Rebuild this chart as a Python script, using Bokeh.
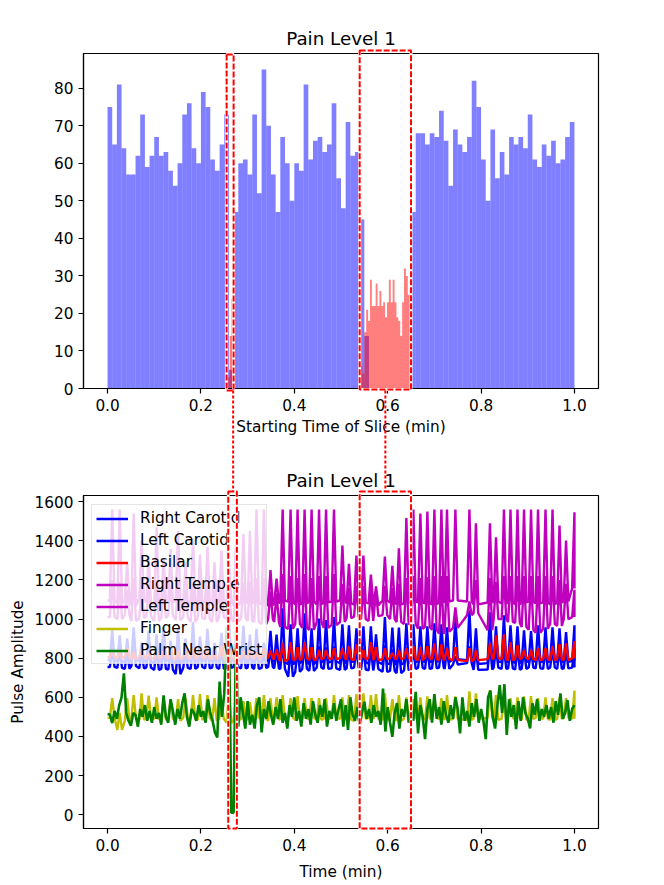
from bokeh.embed import file_html
from bokeh.layouts import column
from bokeh.plotting import figure
from bokeh.resources import INLINE
import numpy as np

# top panel: slices per starting time, 100 bins
blue_counts = [75, 65, 81, 64, 57, 57, 62, 73, 59, 62,
               67, 62, 63, 58, 54, 60, 73, 76, 64, 60,
               79, 75, 61, 58, 65, 73, 5, 47, 60, 61,
               57, 73, 52, 85, 70, 57, 47, 67, 60, 50,
               60, 58, 81, 61, 66, 67, 63, 65, 76, 56,
               48, 71, 62, 63, 45, 14, 0, 0, 0, 0,
               0, 0, 0, 0, 0, 47, 68, 68, 65, 68,
               67, 74, 66, 54, 69, 65, 63, 67, 82, 75,
               61, 50, 69, 56, 63, 57, 67, 65, 67, 64,
               73, 61, 59, 65, 62, 66, 60, 61, 67, 71]
red_early_counts = [3, 14, 24]
red_late_counts = [6, 4, 15, 21, 18, 29, 22, 22, 28, 22, 26, 22, 23, 19,
                   23, 29, 23, 29, 23, 19, 18, 14, 23, 32, 30, 25, 27]
red_early_start = 0.2575
red_late_start = 0.5418
red_bin = 0.00405

x_ticks = [0.0, 0.2, 0.4, 0.6, 0.8, 1.0]
top_y_ticks = [0, 10, 20, 30, 40, 50, 60, 70, 80]
bottom_y_ticks = [0, 200, 400, 600, 800, 1000, 1200, 1400, 1600]

# bottom panel: one value per heart beat, peak and trough
beat_time = [0.010, 0.026, 0.042, 0.056, 0.073, 0.088, 0.105, 0.120,
             0.135, 0.151, 0.167, 0.183, 0.198, 0.214, 0.229, 0.244,
             0.260, 0.275, 0.291, 0.305, 0.319, 0.335, 0.349, 0.362,
             0.375, 0.392, 0.407, 0.422, 0.437, 0.453, 0.468, 0.485,
             0.503, 0.517, 0.533, 0.548, 0.564, 0.575, 0.594, 0.610,
             0.624, 0.640, 0.655, 0.670, 0.685, 0.700, 0.715, 0.727,
             0.745, 0.775, 0.789, 0.819, 0.832, 0.849, 0.863, 0.878,
             0.892, 0.907, 0.922, 0.938, 0.953, 0.968, 0.982, 1.000]

right_carotid_peak = [943, 917, 900, 958, 880, 940, 920, 960,
                      890, 950, 900, 985, 910, 950, 880, 930,
                      1010, 900, 965, 920, 950, 880, 940, 920,
                      1055, 973, 953, 1030, 953, 1003, 995, 1010,
                      973, 968, 953, 963, 963, 922, 1010, 957,
                      957, 978, 973, 963, 963, 978, 973, 958,
                      1003, 1045, 953, 1035, 963, 1019, 968, 963,
                      943, 938, 968, 958, 958, 953, 933, 968]
right_carotid_trough = [790, 785, 780, 792, 785, 782, 778, 790,
                        785, 775, 788, 782, 790, 785, 788, 780,
                        785, 790, 782, 788, 780, 785, 790, 782,
                        778, 770, 775, 782, 770, 785, 778, 782,
                        775, 780, 785, 778, 772, 780, 770, 772,
                        768, 775, 780, 785, 780, 782, 785, 780,
                        795, 790, 770, 775, 782, 780, 782, 775,
                        780, 785, 782, 780, 785, 780, 782, 785]
left_carotid_peak = [850, 840, 835, 860, 830, 845, 840, 855,
                     835, 850, 830, 860, 840, 850, 830, 845,
                     865, 835, 850, 840, 850, 830, 845, 840,
                     870, 850, 845, 865, 845, 860, 855, 860,
                     850, 850, 845, 850, 850, 840, 865, 845,
                     845, 855, 850, 850, 850, 855, 850, 845,
                     810, 860, 845, 865, 850, 860, 850, 850,
                     845, 840, 850, 845, 845, 845, 840, 850]
left_carotid_trough = [755, 750, 745, 760, 748, 752, 740, 745,
                       742, 718, 750, 745, 755, 748, 752, 745,
                       750, 755, 748, 752, 745, 750, 755, 748,
                       745, 705, 730, 745, 735, 752, 745, 748,
                       740, 748, 752, 742, 738, 745, 730, 735,
                       723, 738, 745, 750, 745, 748, 752, 745,
                       768, 775, 740, 742, 752, 745, 748, 742,
                       745, 752, 748, 745, 752, 745, 748, 752]
basilar_peak = [840, 835, 850, 830, 845, 830, 850, 835,
                855, 840, 830, 850, 835, 845, 830, 860,
                840, 850, 835, 845, 830, 850, 840, 845,
                880, 882, 856, 882, 856, 841, 841, 851,
                851, 861, 871, 841, 882, 856, 851, 826,
                841, 851, 861, 856, 861, 876, 871, 851,
                856, 851, 841, 876, 917, 922, 882, 866,
                841, 841, 851, 851, 861, 871, 876, 887]
basilar_trough = [805, 800, 808, 795, 805, 800, 798, 805,
                  800, 795, 805, 798, 805, 800, 795, 805,
                  800, 795, 805, 800, 798, 805, 800, 795,
                  785, 795, 790, 800, 790, 795, 800, 795,
                  800, 795, 790, 795, 800, 790, 795, 800,
                  795, 800, 795, 790, 800, 795, 790, 795,
                  790, 785, 790, 795, 800, 795, 790, 795,
                  800, 795, 790, 795, 790, 795, 790, 800]
right_temple_peak = [1560, 1560, 1290, 1540, 1400, 1320, 1470, 1310,
                     1360, 1450, 1290, 1410, 1330, 1370, 1290, 1350,
                     1300, 1385, 1435, 1452, 1560, 1560, 1250, 1207,
                     1560, 1560, 1560, 1560, 1560, 1560, 1560, 1560,
                     1376, 1282, 1325, 1325, 1228, 1167, 1320, 1272,
                     1362, 1517, 1560, 1540, 1550, 1560, 1560, 1560,
                     1560, 1560, 1490, 1490, 1418, 1560, 1560, 1560,
                     1560, 1560, 1560, 1560, 1560, 1478, 1401, 1546]
right_temple_trough = [1095, 1080, 1100, 1070, 1105, 1085, 1075, 1100,
                       1085, 1095, 1070, 1100, 1080, 1090, 1075, 1095,
                       1085, 1070, 1090, 1080, 1085, 1075, 1070, 1080,
                       1095, 1090, 1075, 1080, 1090, 1075, 1085, 1090,
                       1095, 1080, 1075, 1085, 1080, 1070, 1095, 1085,
                       1075, 1080, 1090, 1085, 1080, 1075, 1085, 1090,
                       1095, 1090, 1075, 1085, 1090, 1080, 1085, 1075,
                       1085, 1090, 1080, 1085, 1075, 1085, 1090, 1157]
left_temple_peak = [1200, 1190, 1150, 1210, 1170, 1160, 1200, 1160,
                    1170, 1190, 1150, 1180, 1160, 1170, 1150, 1165,
                    1160, 1175, 1185, 1190, 1210, 1210, 1140, 1130,
                    1230, 1220, 1210, 1230, 1210, 1220, 1220, 1230,
                    1180, 1160, 1170, 1170, 1150, 1140, 1170, 1160,
                    1180, 1210, 1220, 1210, 1215, 1220, 1220, 1220,
                    1060, 1090, 1200, 1210, 1190, 1220, 1220, 1220,
                    1220, 1220, 1220, 1220, 1220, 1200, 1180, 1150]
left_temple_trough = [1010, 1000, 1020, 990, 1005, 1015, 990, 1005,
                      1020, 995, 1010, 985, 1005, 1000, 985, 1010,
                      1000, 985, 1005, 990, 985, 975, 1000, 985,
                      960, 950, 975, 955, 945, 985, 955, 970,
                      985, 1005, 1012, 1000, 990, 1015, 1020, 1000,
                      985, 975, 975, 950, 960, 945, 925, 935,
                      955, 1020, 1030, 943, 1000, 1000, 985, 980,
                      960, 945, 930, 950, 975, 965, 1000, 1010]
finger_peak = [596, 520, 596, 611, 620, 609, 600, 590,
               585, 590, 596, 611, 616, 611, 596, 575,
               637, 605, 580, 575, 596, 611, 596, 600,
               611, 596, 606, 596, 596, 596, 596, 611,
               600, 611, 616, 620, 611, 616, 620, 590,
               611, 600, 590, 600, 605, 600, 596, 611,
               605, 631, 620, 637, 611, 600, 596, 600,
               605, 606, 596, 600, 596, 600, 596, 634]
finger_trough = [495, 433, 480, 490, 485, 495, 490, 485,
                 490, 480, 495, 490, 485, 495, 480, 490,
                 470, 480, 490, 485, 495, 490, 480, 485,
                 490, 495, 485, 490, 495, 485, 490, 495,
                 490, 485, 480, 490, 495, 490, 485, 490,
                 480, 490, 495, 485, 490, 495, 490, 485,
                 490, 485, 490, 495, 485, 490, 495, 490,
                 485, 490, 495, 490, 485, 490, 495, 490]

# palm trace is noisy, one reading every 0.005 min
palm_values = [515, 512, 468, 530, 490, 560, 600, 722, 520, 480,
               455, 520, 510, 450, 540, 500, 560, 480, 530, 470,
               550, 490, 520, 460, 610, 500, 470, 590, 530, 460,
               540, 490, 570, 620, 500, 450, 540, 520, 480, 560,
               500, 530, 470, 590, 520, 480, 420, 395, 680, 500,
               620, 950, 960, 10, 10, 940, 450, 600, 520, 440,
               580, 460, 510, 440, 560, 600, 420, 540, 490, 580,
               510, 460, 550, 490, 590, 470, 520, 440, 560, 500,
               600, 480, 530, 450, 570, 490, 540, 460, 580, 510,
               470, 560, 500, 590, 450, 530, 490, 570, 480, 540,
               590, 450, 560, 433, 600, 510, 480, 550, 458, 520,
               577, 490, 540, 470, 560, 500, 530, 460, 645, 425,
               550, 470, 398, 520, 570, 440, 540, 500, 590, 470,
               530, 480, 628, 415, 560, 500, 386, 540, 590, 470,
               616, 490, 550, 460, 580, 510, 470, 560, 490, 600,
               540, 415, 600, 480, 530, 450, 570, 500, 590, 470,
               540, 480, 386, 600, 634, 500, 440, 560, 662, 520,
               667, 408, 590, 500, 560, 437, 580, 480, 600, 520,
               490, 441, 570, 510, 590, 480, 540, 500, 560, 490,
               550, 470, 580, 510, 620, 490, 520, 586, 480, 540,
               560]

# red dashed regions in minutes, shared overlay of the whole page
region_left = [0.255, 0.540, 0.2585, 0.540]
region_right = [0.270, 0.650, 0.277, 0.650]
connector_times = [0.269, 0.595]

FONT = "DejaVu Sans"
X_RANGE = (-0.0515, 1.0515)
PAGE_W, PAGE_H = 664, 883
FRAME_LEFT, FRAME_W = 83, 515


def beat_trace(peak, trough):
    t = np.array(beat_time)
    times = np.column_stack([t - 0.005, t, t + 0.005]).ravel()
    values = np.column_stack([trough, peak, trough]).ravel()
    return np.concatenate([[0.0], np.minimum(times, 1.0)]), np.concatenate([[trough[0]], values])


def style(p, y_ticks):
    p.title.text_font = FONT
    p.title.text_font_size = "18.3px"
    p.title.text_font_style = "normal"
    p.title.text_color = "black"
    p.title.align = "center"
    p.grid.visible = False
    p.outline_line_color = "black"
    p.outline_line_width = 1.2
    p.xaxis.ticker = x_ticks
    p.yaxis.ticker = y_ticks
    p.xaxis.major_label_overrides = {v: f"{v:.1f}" for v in x_ticks}
    for axis in p.xaxis + p.yaxis:
        axis.axis_line_color = "black"
        axis.axis_line_width = 1.2
        axis.major_tick_line_color = "black"
        axis.major_tick_line_width = 1.2
        axis.major_tick_in = 0
        axis.major_tick_out = 5
        axis.minor_tick_line_color = None
        axis.major_label_text_font = FONT
        axis.major_label_text_font_size = "15.3px"
        axis.major_label_text_color = "black"
        axis.axis_label_text_font = FONT
        axis.axis_label_text_font_size = "15.3px"
        axis.axis_label_text_font_style = "normal"
        axis.axis_label_text_color = "black"


p1 = figure(width=PAGE_W, height=460, title="Pain Level 1", x_range=X_RANGE,
            y_range=(0, 89.25), output_backend="svg", toolbar_location=None,
            min_border_left=FRAME_LEFT, min_border_right=66, min_border_top=53, min_border_bottom=72,
            x_axis_label="Starting Time of Slice (min)")
style(p1, top_y_ticks)
p1.xaxis.axis_label_standoff = 4

edges = np.arange(101) / 100
p1.quad(left=edges[:-1], right=edges[1:], top=blue_counts, bottom=0,
        fill_color="blue", fill_alpha=0.5, line_color=None)
# one outline per red group, thin separate bars leave seams
for start, counts in [(red_early_start, red_early_counts), (red_late_start, red_late_counts)]:
    bin_edges = start + np.arange(len(counts) + 1) * red_bin
    p1.varea_step(x=bin_edges, y1=0, y2=counts + [0], step_mode="after",
                  fill_color="red", fill_alpha=0.5)

p2 = figure(width=PAGE_W, height=423, title="Pain Level 1", x_range=X_RANGE,
            y_range=(-71, 1632), output_backend="svg", toolbar_location=None,
            min_border_left=FRAME_LEFT, min_border_right=66, min_border_top=35, min_border_bottom=54,
            x_axis_label="Time (min)", y_axis_label="Pulse Amplitude")
style(p2, bottom_y_ticks)
p2.xaxis.axis_label_standoff = 9

traces = [("Right Carotid", "#0000ff", right_carotid_peak, right_carotid_trough),
          ("Left Carotid", "#0000ff", left_carotid_peak, left_carotid_trough),
          ("Basilar", "#ff0000", basilar_peak, basilar_trough),
          ("Right Temple", "#bf00bf", right_temple_peak, right_temple_trough),
          ("Left Temple", "#bf00bf", left_temple_peak, left_temple_trough),
          ("Finger", "#bfbf00", finger_peak, finger_trough)]
for name, color, peak, trough in traces:
    xs, ys = beat_trace(peak, trough)
    p2.line(xs, ys, color=color, line_width=2.4, legend_label=name)
p2.line(np.arange(len(palm_values)) * 0.005, palm_values, color="#008000", line_width=2.6,
        legend_label="Palm Near Wrist")

legend = p2.legend[0]
legend.location = (8, 164)
legend.margin = 0
legend.padding = 4
legend.spacing = 4
legend.glyph_width = 32
legend.glyph_height = 17
legend.label_height = 17
legend.label_standoff = 12
legend.label_text_font = FONT
legend.label_text_font_size = "15.3px"
legend.label_text_color = "black"
legend.border_line_color = "#cccccc"
legend.background_fill_alpha = 0.8

# annotations get clipped to their frame, so the boxes and connectors sit on
# a transparent figure laid over both panels, y is page pixels
per_px = (X_RANGE[1] - X_RANGE[0]) / FRAME_W
overlay = figure(width=PAGE_W, height=PAGE_H, output_backend="svg", toolbar_location=None,
                 x_range=(X_RANGE[0] - FRAME_LEFT * per_px, X_RANGE[0] + (PAGE_W - FRAME_LEFT) * per_px),
                 y_range=(PAGE_H, 0), x_axis_type=None, y_axis_type=None,
                 min_border=0, margin=(-PAGE_H, 0, 0, 0), frame_align=False,
                 background_fill_alpha=0, border_fill_alpha=0, outline_line_color=None)
overlay.grid.visible = False
box_top = [54, 50, 491, 491]
box_bottom = [390, 389, 828, 828]
for color, dash, width in [("white", "solid", 3), ("red", "6 2", 2)]:
    overlay.quad(left=region_left, right=region_right, top=box_top, bottom=box_bottom,
                 fill_color=None, line_color=color, line_dash=dash, line_width=width)
overlay.segment(x0=connector_times, x1=connector_times, y0=[390, 390], y1=[491, 491],
                line_color="red", line_dash="3 2", line_width=2)

open("out.html", "w").write(file_html(column(p1, p2, overlay), INLINE))
